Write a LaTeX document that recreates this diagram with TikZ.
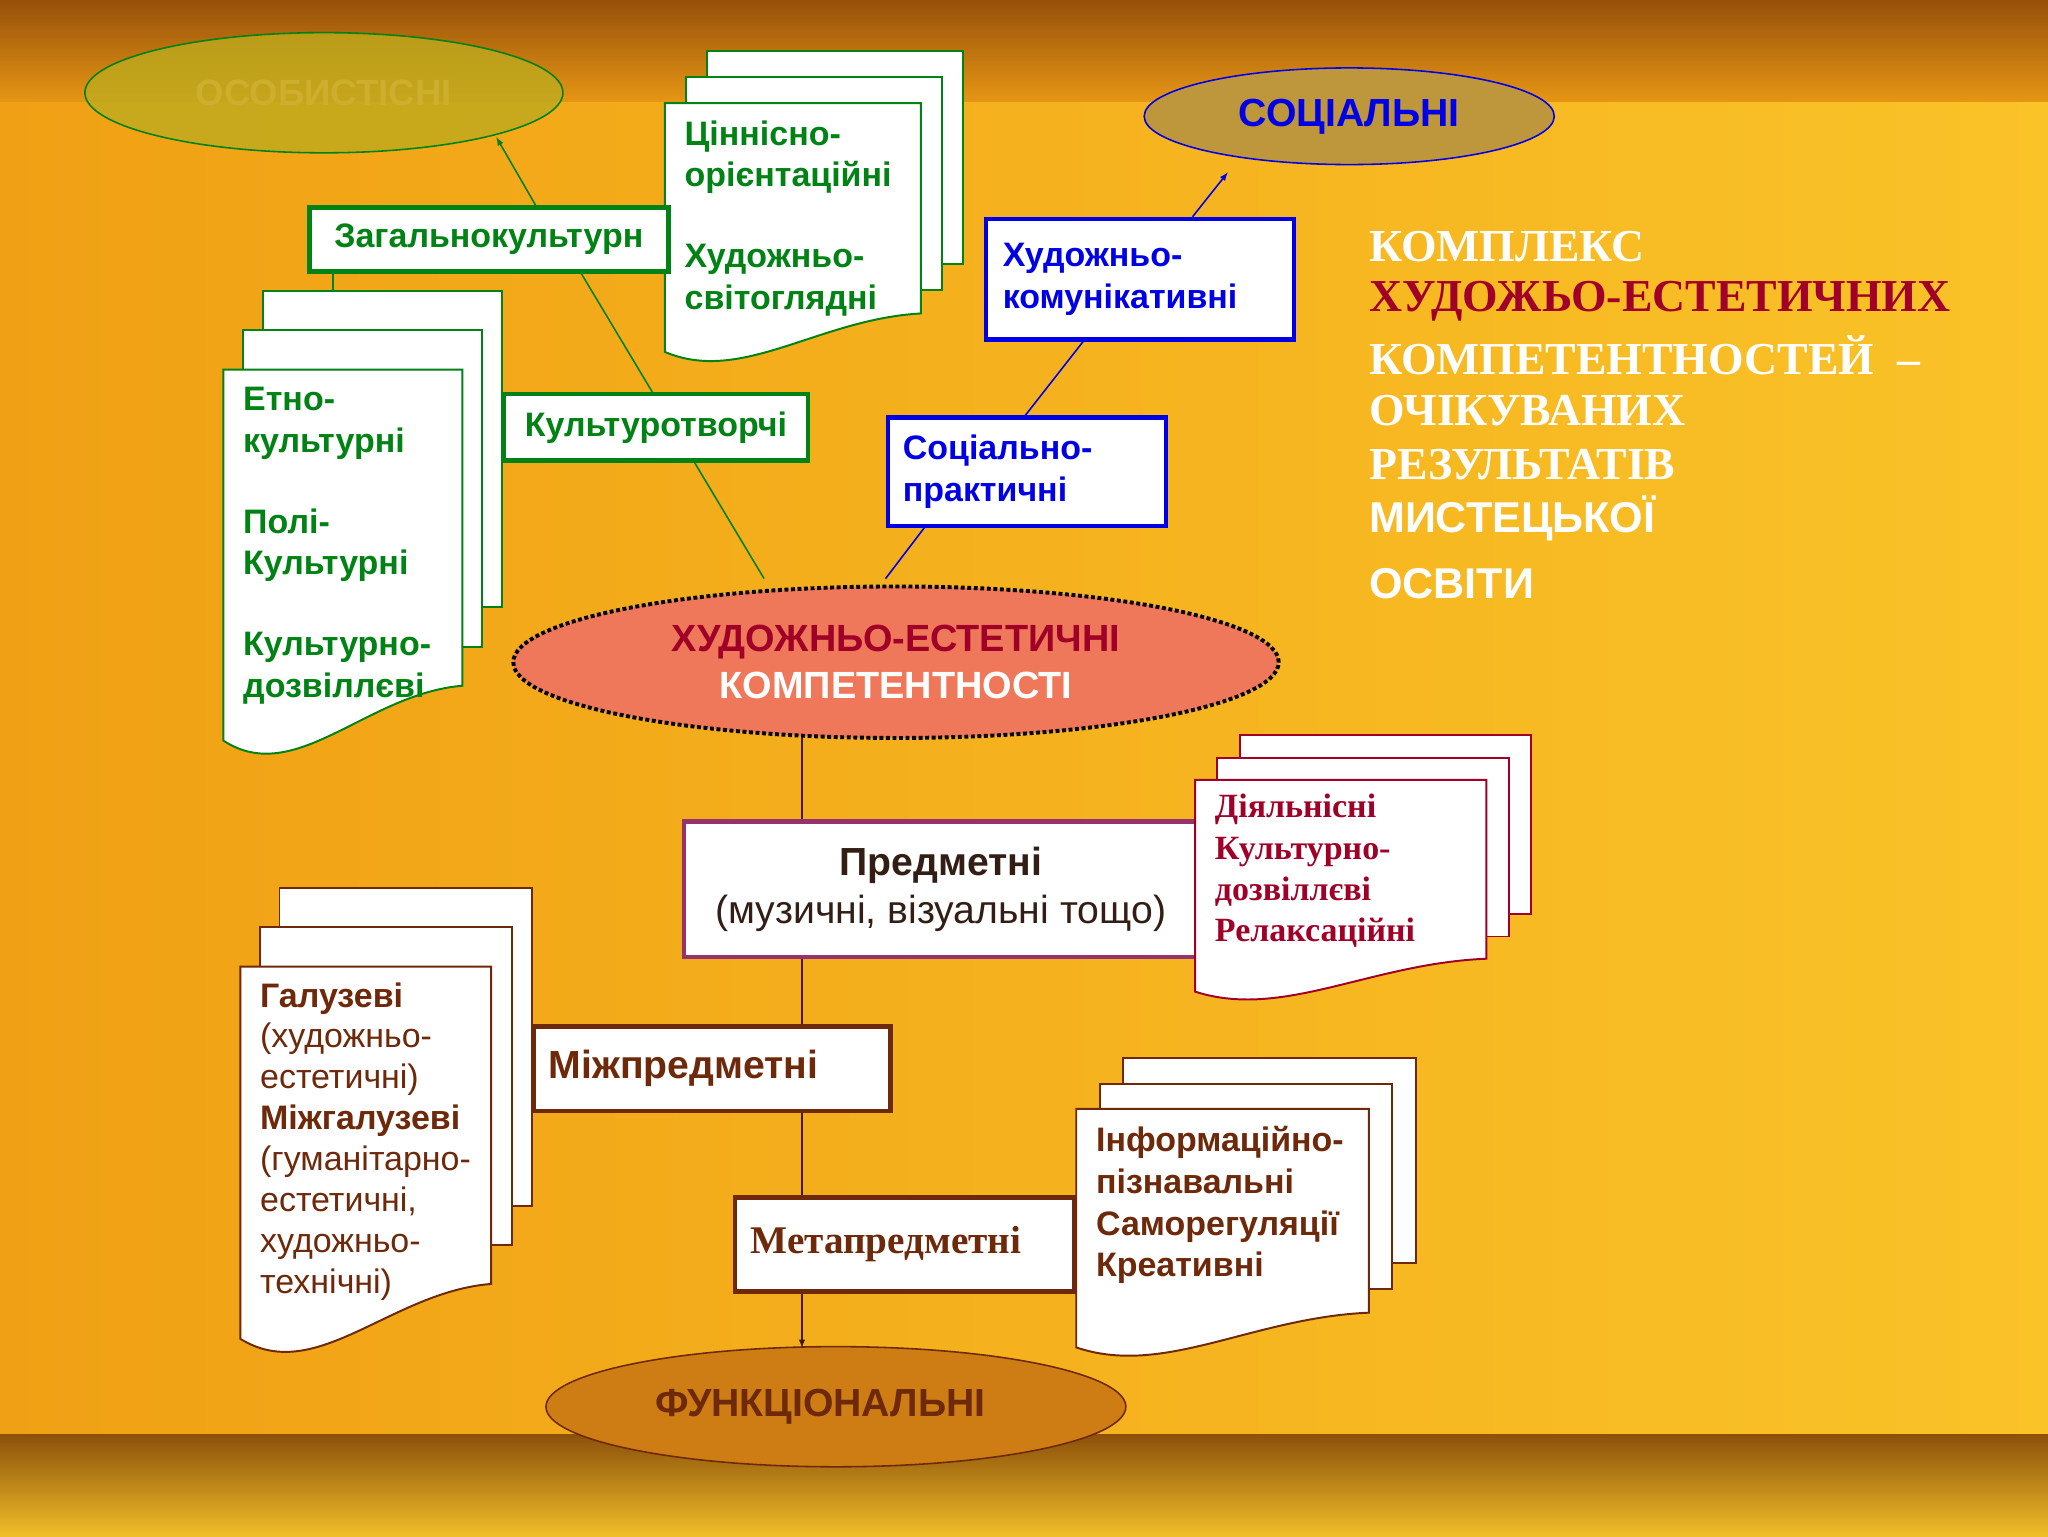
\documentclass[tikz,border=0pt]{standalone}
\usepackage{fontspec}
\usetikzlibrary{shapes.geometric}
\setmainfont{Liberation Sans}
\newfontfamily\serf{Liberation Serif}
\begin{document}
\begin{tikzpicture}[x=1pt,y=-1pt,
 lbl/.style={font=\fontsize{26}{32}\selectfont\bfseries,align=left,anchor=north west,inner sep=0},
 bx/.style={draw,line width=3.5pt,fill=white},
 cn/.style={line width=1.2pt}]
\definecolor{gr}{RGB}{0,130,20}
\definecolor{bl}{RGB}{0,0,230}
\definecolor{dred}{RGB}{160,0,40}
\definecolor{brn}{RGB}{110,40,10}
\definecolor{pur}{RGB}{150,50,110}
\useasboundingbox (0,0) rectangle (1568,1176);
\shade[left color={rgb,255:red,240;green,160;blue,20},right color={rgb,255:red,250;green,195;blue,40}] (0,78) rectangle (1568,1098);
\shade[top color={rgb,255:red,150;green,80;blue,10},bottom color={rgb,255:red,230;green,150;blue,20}] (0,0) rectangle (1568,78);
\shade[top color={rgb,255:red,140;green,80;blue,10},bottom color={rgb,255:red,240;green,190;blue,40}] (0,1098) rectangle (1568,1176);
\newcommand\docsh[6]{% color,l,t,r,b,d
 \draw[#1,line width=1.5pt,fill=white] (#2,#3) -- (#4,#3) -- (#4,{#5-#6}) .. controls ({#2+0.6*(#4-#2)},{#5-0.9*#6}) and ({#2+0.3*(#4-#2)},{#5+0.3*#6}) .. (#2,{#5-0.3*#6}) -- cycle;}
\newcommand\back[5]{\draw[#1,line width=1.5pt,fill=white] (#2,#3) rectangle (#4,#5);}
% ellipses
\node (os) [ellipse,draw=gr,line width=1.2pt,fill={rgb,255:red,190;green,170;blue,30},fill opacity=0.8,minimum width=366,minimum height=92,text opacity=1,font=\fontsize{28}{30}\selectfont\bfseries,text={rgb,255:red,205;green,175;blue,45}] at (248,71) {ОСОБИСТІСНІ};
\node (so) [ellipse,draw=bl,line width=1.2pt,fill={rgb,255:red,190;green,150;blue,60},minimum width=314,minimum height=74,font=\fontsize{30}{32}\selectfont\bfseries,text=bl] at (1033,89) {СОЦІАЛЬНІ};
\node (fu) [ellipse,draw=brn,line width=1.2pt,fill={rgb,255:red,205;green,125;blue,20},minimum width=444,minimum height=92,font=\fontsize{30}{32}\selectfont\bfseries,text=brn] at (640,1077) {\hspace*{-24pt}ФУНКЦІОНАЛЬНІ};
% connectors
\coordinate (zk) at (410,157); \coordinate (zb) at (443,206);
\coordinate (ca) at (585,443); \coordinate (cb) at (678,443);
\draw[cn,gr,-latex] (zk) -- (380,105);
\draw[cn,gr] (zb) -- (ca);
\draw[cn,gr] (255,206) -- (255,222);
\draw[cn,bl] (cb) -- (710,401);
\draw[cn,bl] (785,318) -- (832,258);
\draw[cn,bl,-latex] (913,166) -- (940,132);
\draw[cn,brn!60!black,-latex] (614,560) -- (614,1032);
% central ellipse
\node (ce) [ellipse,draw=black,line width=3pt,dotted,fill={rgb,255:red,240;green,120;blue,90},minimum width=586,minimum height=116,align=center,font=\fontsize{29}{36}\selectfont\bfseries] at (686,507) {\textcolor{dred}{ХУДОЖНЬО-ЕСТЕТИЧНІ}\\\textcolor{white}{КОМПЕТЕНТНОСТІ}};
% green docs
\back{gr}{541}{39}{737}{202}\back{gr}{525}{59}{721}{222}
\docsh{gr}{509}{79}{705}{282}{42}
\node[lbl,text=gr] at (524,92) {Ціннісно-\\орієнтаційні\\[30pt]Художньо-\\світоглядні};
\back{gr}{201}{223}{384}{465}\back{gr}{186}{253}{369}{495}
\docsh{gr}{171}{283}{354}{585}{60}
\node[lbl,text=gr] at (186,296) {Етно-\\культурні\\[30pt]Полі-\\Культурні\\[30pt]Культурно-\\дозвіллєві};
\node (zag) [bx,draw=gr,text=gr,font=\fontsize{26}{28}\selectfont\bfseries,minimum width=275,minimum height=49,anchor=north west,align=left] at (235,157) {Загальнокультурн};
\node (kt) [bx,draw=gr,text=gr,font=\fontsize{26}{28}\selectfont\bfseries,minimum width=233,minimum height=51,anchor=north west] at (384,300) {Культуротворчі};
% blue boxes
\node (hk) [bx,draw=bl,text=bl,font=\fontsize{26}{32}\selectfont\bfseries,minimum width=236,minimum height=92,anchor=north west,align=left,text width=210] at (753,166) {Художньо-\\комунікативні};
\node (sp) [bx,draw=bl,text=bl,font=\fontsize{26}{32}\selectfont\bfseries,minimum width=213,minimum height=83,anchor=north west,align=left,text width=190] at (678,318) {Соціально-\\практичні};
% predmetni
\node (pr) [bx,draw=pur,minimum width=393,minimum height=104,anchor=north west,align=center,font=\fontsize{30}{37}\selectfont,text={rgb,255:red,50;green,30;blue,20}] at (522,627) {\textbf{Предметні}\\(музичні, візуальні тощо)};
\back{dred}{949}{563}{1172}{700}\back{dred}{932}{580}{1155}{717}
\docsh{dred}{915}{597}{1138}{770}{36}
\node[lbl,text=dred,font=\serf\fontsize{26}{31.5}\selectfont\bfseries] at (930,608) {Діяльнісні\\Культурно-\\дозвіллєві\\Релаксаційні};
\node (mp) [bx,draw=brn,text=brn,minimum width=273,minimum height=65,anchor=north west,font=\fontsize{30}{32}\selectfont\bfseries,align=left,text width=250] at (407,784) {Міжпредметні};
\back{brn}{214}{680}{407}{923}\back{brn}{199}{710}{392}{953}
\docsh{brn}{184}{740}{376}{1043}{60}
\node[lbl,text=brn,font=\fontsize{26}{31.3}\selectfont] at (199,752) {\textbf{Галузеві}\\(художньо-\\естетичні)\\\textbf{Міжгалузеві}\\(гуманітарно-\\естетичні,\\художньо-\\технічні)};
\node (mt) [bx,draw=brn,text=brn,minimum width=260,minimum height=72,anchor=north west,font=\serf\fontsize{30}{32}\selectfont\bfseries,align=left,text width=236] at (561,915) {Метапредметні};
\back{brn}{860}{810}{1084}{967}\back{brn}{842}{830}{1066}{987}
\docsh{brn}{824}{849}{1048}{1043}{38}
\node[lbl,text=brn] at (839,862) {Інформаційно-\\пізнавальні\\Саморегуляції\\Креативні};
% title
\begin{scope}[every node/.style={anchor=west,inner sep=0,text=white}]
\node at (1048,189) {\serf\fontsize{35}{40}\selectfont\bfseries КОМПЛЕКС};
\node[text=dred] at (1048,231) {\serf\fontsize{35}{40}\selectfont\bfseries ХУДОЖЬО-ЕСТЕТИЧНИХ};
\node at (1048,272) {\serf\fontsize{35}{40}\selectfont\bfseries КОМПЕТЕНТНОСТЕЙ~~–};
\node at (1048,314) {\serf\fontsize{35}{40}\selectfont\bfseries ОЧІКУВАНИХ};
\node at (1048,356) {\serf\fontsize{35}{40}\selectfont\bfseries РЕЗУЛЬТАТІВ};
\node at (1048,397) {\fontsize{33}{40}\selectfont\bfseries МИСТЕЦЬКОЇ};
\node at (1048,447) {\fontsize{33}{40}\selectfont\bfseries ОСВІТИ};
\end{scope}
\end{tikzpicture}
\end{document}
